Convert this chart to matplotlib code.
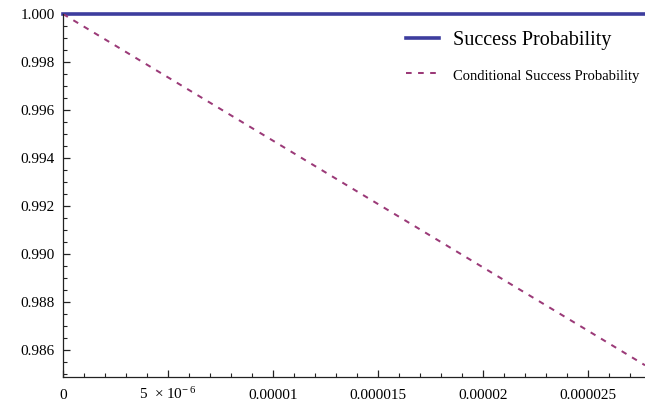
import numpy as np
import matplotlib.pyplot as plt
from matplotlib.ticker import MultipleLocator, FixedLocator

plt.rcParams['font.family'] = ['Liberation Serif', 'DejaVu Serif']
plt.rcParams['mathtext.fontset'] = 'custom'
plt.rcParams['mathtext.rm'] = 'Liberation Serif'

# data
x = [0, 5e-6, 1e-5, 1.5e-5, 2e-5, 2.5e-5, 2.77e-5]
success = [1.0, 1.0, 1.0, 1.0, 1.0, 1.0, 1.0]
cond_success = [1.0, 0.99736, 0.99472, 0.99208, 0.98944, 0.9868, 0.98537]

xticks = [0, 5e-6, 1e-5, 1.5e-5, 2e-5, 2.5e-5]
xticklabels = ['0', r'$\mathregular{5\ \times 10^{-\,6}}$', '0.00001', '0.000015', '0.00002', '0.000025']
yticks = [0.986, 0.988, 0.990, 0.992, 0.994, 0.996, 0.998, 1.000]

fig = plt.figure(figsize=(6.45, 4.05), dpi=100)
ax = fig.add_axes([63/645, 28/405, 1 - 63/645, (377 - 14)/405])

ax.plot(x, success, color='#3d3d9e', lw=2.6, clip_on=False,
        label='Success Probability')
ax.plot(x, cond_success, color='#9b3a78', lw=1.45, dashes=(2.8, 3.2),
        label='Conditional Success Probability')

ax.set_xlim(0, 2.77e-5)
ax.set_ylim(0.98488, 1.0)

ax.xaxis.set_major_locator(FixedLocator(xticks))
ax.set_xticklabels(xticklabels)
ax.xaxis.set_minor_locator(MultipleLocator(1e-6))
ax.yaxis.set_major_locator(FixedLocator(yticks))
ax.set_yticklabels(['%.3f' % v for v in yticks])
ax.yaxis.set_minor_locator(MultipleLocator(0.0005))

ax.tick_params(which='both', direction='in', labelsize=11, color='#222222')
ax.tick_params(which='major', length=5, width=0.9)
ax.tick_params(which='minor', length=3, width=0.8)
ax.tick_params(axis='x', which='major', pad=15.5)
ax.tick_params(axis='y', which='major', pad=6)
for lab in ax.get_xticklabels():
    lab.set_verticalalignment('baseline')

for s in ['top', 'right']:
    ax.spines[s].set_visible(False)
for s in ['left', 'bottom']:
    ax.spines[s].set_color('#222222')
    ax.spines[s].set_linewidth(0.9)

leg = ax.legend(loc='upper right', bbox_to_anchor=(1.022, 1.004), frameon=False,
                fontsize=14.5, handlelength=1.65, handletextpad=0.72,
                labelspacing=0.8)
leg.get_texts()[1].set_fontsize(10.5)

plt.savefig('out.png', dpi=100)
